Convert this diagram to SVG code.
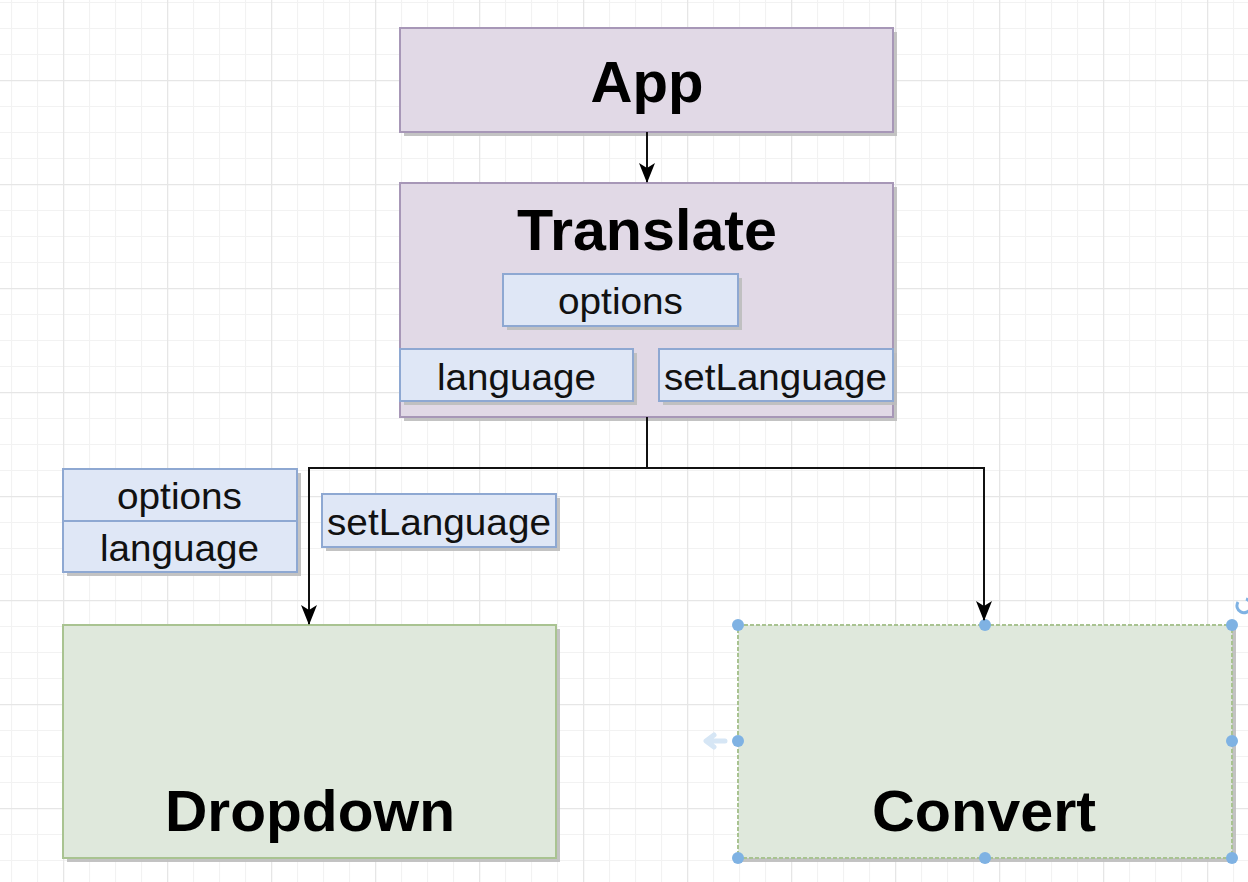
<svg xmlns="http://www.w3.org/2000/svg" width="1248" height="882" viewBox="0 0 1248 882">
<defs>
<pattern id="minor" x="11" y="2" width="26" height="26" patternUnits="userSpaceOnUse">
<path d="M0.5 0V26M0 0.5H26" stroke="#f2f2f2" stroke-width="1.2" fill="none"/>
</pattern>
<pattern id="major" x="63" y="80" width="104" height="104" patternUnits="userSpaceOnUse">
<path d="M0.5 0V104M0 0.5H104" stroke="#e6e6e6" stroke-width="1.5" fill="none"/>
</pattern>
<marker id="arr" viewBox="0 0 20 18" refX="19" refY="9" markerWidth="20" markerHeight="18" markerUnits="userSpaceOnUse" orient="auto">
<path d="M0 1L20 9L0 17L5 9Z" fill="#000"/>
</marker>
</defs>
<style>
.purple{fill:#e1d9e6;stroke:#a797b7;stroke-width:2}
.blue{fill:#dfe7f6;stroke:#8ea8d2;stroke-width:2}
.green{fill:#dfe8dc;stroke:#a9c391;stroke-width:2}
.shadow{fill:#bdbdbd;opacity:0.9}
.big{font-family:"Liberation Sans",Arial,sans-serif;font-weight:bold;font-size:58px;fill:#000;text-anchor:middle}
.small{font-family:"Liberation Sans",Arial,sans-serif;font-size:37px;fill:#111;text-anchor:middle}
.conn{fill:none;stroke:#111;stroke-width:2}
.handle{fill:#7fb2e3}
</style>
<rect width="1248" height="882" fill="#fff"/>
<rect width="1248" height="882" fill="url(#minor)"/>
<rect width="1248" height="882" fill="url(#major)"/>

<g id="app">
<rect class="shadow" x="404" y="32" width="493" height="104"/>
<rect class="purple" x="400" y="28" width="493" height="104"/>
<text class="big" x="647" y="102" textLength="113" lengthAdjust="spacingAndGlyphs">App</text>
</g>

<g id="translate">
<rect class="shadow" x="404" y="187" width="493" height="234"/>
<rect class="purple" x="400" y="183" width="493" height="234"/>
<text class="big" x="647" y="250" textLength="260" lengthAdjust="spacingAndGlyphs">Translate</text>
<g id="translate-options">
<rect class="shadow" x="507" y="278" width="235" height="52"/>
<rect class="blue" x="503" y="274" width="235" height="52"/>
<text class="small" x="620.5" y="314" textLength="125" lengthAdjust="spacingAndGlyphs">options</text>
</g>
<g id="translate-language">
<rect class="shadow" x="404" y="353" width="233" height="52"/>
<rect class="blue" x="400" y="349" width="233" height="52"/>
<text class="small" x="516.5" y="390" textLength="159" lengthAdjust="spacingAndGlyphs">language</text>
</g>
<g id="translate-setlanguage">
<rect class="shadow" x="663" y="353" width="234" height="52"/>
<rect class="blue" x="659" y="349" width="234" height="52"/>
<text class="small" x="775.5" y="390" textLength="223" lengthAdjust="spacingAndGlyphs">setLanguage</text>
</g>
</g>

<g id="props-left">
<rect class="shadow" x="67" y="473" width="234" height="103"/>
<rect class="blue" x="63" y="469" width="234" height="52"/>
<rect class="blue" x="63" y="521" width="234" height="51"/>
<text class="small" x="179.5" y="509" textLength="125" lengthAdjust="spacingAndGlyphs">options</text>
<text class="small" x="179.5" y="561" textLength="159" lengthAdjust="spacingAndGlyphs">language</text>
</g>

<g id="props-setlanguage">
<rect class="shadow" x="326" y="498" width="234" height="53"/>
<rect class="blue" x="322" y="494" width="234" height="53"/>
<text class="small" x="439" y="535" textLength="224" lengthAdjust="spacingAndGlyphs">setLanguage</text>
</g>

<g id="dropdown">
<rect class="shadow" x="67" y="629" width="493" height="233"/>
<rect class="green" x="63" y="625" width="493" height="233"/>
<text class="big" x="310" y="831" textLength="290" lengthAdjust="spacingAndGlyphs">Dropdown</text>
</g>

<g id="convert">
<rect class="shadow" x="742" y="629" width="494" height="233"/>
<rect class="green" x="738" y="625" width="494" height="233" stroke-dasharray="4 2"/>
<text class="big" x="984" y="831" textLength="224" lengthAdjust="spacingAndGlyphs">Convert</text>
<g id="selection">
<path d="M725 741H708M714 735L706 741L714 747" fill="none" stroke="#d6e6f5" stroke-width="5" stroke-linecap="round" stroke-linejoin="round"/>
<path d="M1238 602a7 7 0 1 0 8 -3" fill="none" stroke="#7fb2e3" stroke-width="3"/>
<circle class="handle" cx="738" cy="625" r="6"/>
<circle class="handle" cx="985" cy="625" r="6"/>
<circle class="handle" cx="1232" cy="625" r="6"/>
<circle class="handle" cx="738" cy="741" r="6"/>
<circle class="handle" cx="1232" cy="741" r="6"/>
<circle class="handle" cx="738" cy="858" r="6"/>
<circle class="handle" cx="985" cy="858" r="6"/>
<circle class="handle" cx="1232" cy="858" r="6"/>
</g>
</g>

<g id="connectors">
<path class="conn" d="M647 132V182" marker-end="url(#arr)"/>
<path class="conn" d="M647 417V468H309V624" marker-end="url(#arr)"/>
<path class="conn" d="M647 468H984V620" marker-end="url(#arr)"/>
</g>
</svg>
